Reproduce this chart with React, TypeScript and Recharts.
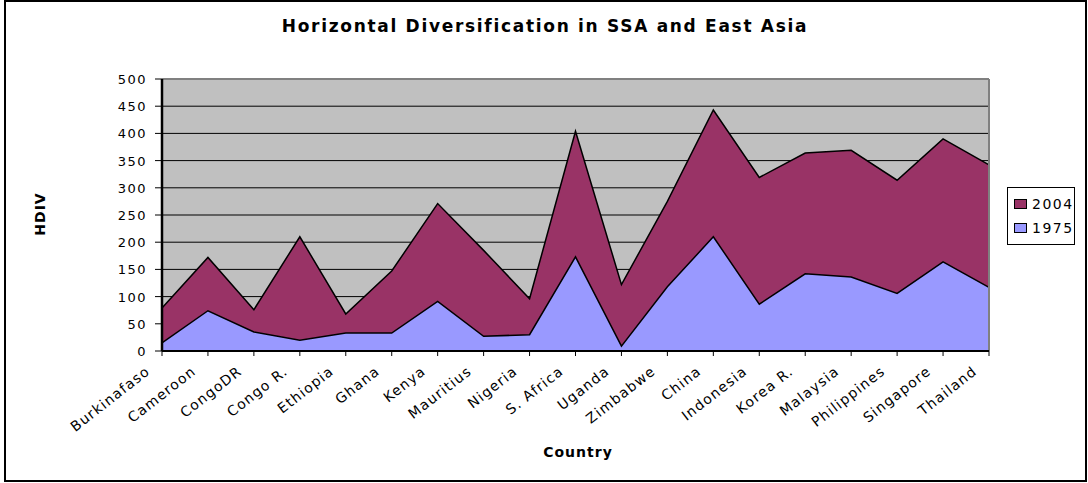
import React from "react";
import {
  AreaChart,
  Area,
  CartesianGrid,
  XAxis,
  YAxis,
  Legend,
  ReferenceLine,
} from "recharts";

const countries = [
  "Burkinafaso",
  "Cameroon",
  "CongoDR",
  "Congo R.",
  "Ethiopia",
  "Ghana",
  "Kenya",
  "Mauritius",
  "Nigeria",
  "S. Africa",
  "Uganda",
  "Zimbabwe",
  "China",
  "Indonesia",
  "Korea R.",
  "Malaysia",
  "Philippines",
  "Singapore",
  "Thailand",
];

const hdiv1975 = [15, 74, 35, 20, 33, 33, 91, 27, 30, 173, 9, 118, 210, 86, 142, 136, 106, 164, 117];
const hdiv2004 = [79, 172, 76, 210, 68, 147, 271, 185, 96, 404, 122, 275, 443, 319, 364, 369, 314, 390, 342];

const yTicks = [0, 50, 100, 150, 200, 250, 300, 350, 400, 450, 500];

const series = [
  { key: "2004", color: "#993366" },
  { key: "1975", color: "#9999FF" },
];

const data = countries.map((country, i) => ({
  country,
  "1975": hdiv1975[i],
  "2004": hdiv2004[i],
}));

const FONT = "'DejaVu Sans', sans-serif";

// rotated category labels, anchored just below-left of each tick
const CountryTick = (props: any) => {
  const { x, y, payload } = props;
  return (
    <g transform={`translate(${x - 11},${y + 17})`}>
      <text
        transform="rotate(-38)"
        textAnchor="end"
        fontFamily={FONT}
        fontSize={14}
        letterSpacing={1.2}
        fill="#000"
      >
        {payload.value}
      </text>
    </g>
  );
};

const ValueTick = (props: any) => {
  const { x, y, payload } = props;
  return (
    <text
      x={x}
      y={y + 5}
      textAnchor="end"
      fontFamily={FONT}
      fontSize={13}
      letterSpacing={1.5}
      fill="#000"
    >
      {payload.value}
    </text>
  );
};

const renderLegend = () => (
  <div
    style={{
      border: "1.5px solid #000",
      background: "#fff",
      padding: "4px 0 4px 6px",
      boxSizing: "border-box",
      width: 68,
      fontFamily: FONT,
      fontSize: 14,
      letterSpacing: 1.5,
      lineHeight: "24px",
    }}
  >
    {series.map((s) => (
      <div key={s.key} style={{ display: "flex", alignItems: "center" }}>
        <span
          style={{
            display: "inline-block",
            width: 11,
            height: 8,
            background: s.color,
            border: "1px solid #000",
            marginRight: 5,
          }}
        />
        {s.key}
      </div>
    ))}
  </div>
);

export default function App() {
  return (
    <div
      style={{
        position: "absolute",
        left: 0,
        top: 0,
        width: 1088,
        height: 483,
        background: "#fff",
      }}
    >
      <div
        style={{
          position: "absolute",
          left: 4,
          top: 0,
          width: 1083,
          height: 482,
          border: "2px solid #000",
          boxSizing: "border-box",
        }}
      />
      <AreaChart
        width={1088}
        height={483}
        data={data}
        margin={{ top: 79, right: 99, bottom: 0, left: 0 }}
      >
        <CartesianGrid vertical={false} stroke="#000" fill="#C0C0C0" fillOpacity={1} />
        <XAxis
          dataKey="country"
          interval={0}
          height={132}
          tickSize={5}
          tickMargin={0}
          axisLine={{ stroke: "#000", strokeWidth: 2 }}
          tickLine={{ stroke: "#000" }}
          tick={<CountryTick />}
          label={{
            content: () => (
              <text
                x={578}
                y={457}
                textAnchor="middle"
                fontFamily={FONT}
                fontSize={14}
                fontWeight="bold"
                letterSpacing={1}
                fill="#000"
              >
                Country
              </text>
            ),
          }}
        />
        <YAxis
          width={162}
          domain={[0, 500]}
          ticks={yTicks}
          interval={0}
          tickSize={7}
          tickMargin={8}
          axisLine={{ stroke: "#000", strokeWidth: 2.5 }}
          tickLine={{ stroke: "#000" }}
          tick={<ValueTick />}
          label={{
            content: () => (
              <text
                transform="translate(45,214) rotate(-90)"
                textAnchor="middle"
                fontFamily={FONT}
                fontSize={14}
                fontWeight="bold"
                letterSpacing={1}
                fill="#000"
              >
                HDIV
              </text>
            ),
          }}
        />
        <ReferenceLine y={500} stroke="#808080" strokeWidth={2} />
        <ReferenceLine x="Thailand" stroke="#808080" strokeWidth={2} />
        {series.map((s) => (
          <Area
            key={s.key}
            type="linear"
            dataKey={s.key}
            stroke="#000"
            strokeWidth={1.5}
            fill={s.color}
            fillOpacity={1}
            dot={false}
            activeDot={false}
            isAnimationActive={false}
          />
        ))}
        <Legend
          layout="vertical"
          align="center"
          verticalAlign="middle"
          content={renderLegend}
          wrapperStyle={{ position: "absolute", left: 1007, top: 187, width: 68 }}
        />
        <text
          x={545}
          y={32}
          textAnchor="middle"
          fontFamily={FONT}
          fontSize={17}
          fontWeight="bold"
          letterSpacing={1.7}
          fill="#000"
        >
          Horizontal Diversification in SSA and East Asia
        </text>
      </AreaChart>
    </div>
  );
}
